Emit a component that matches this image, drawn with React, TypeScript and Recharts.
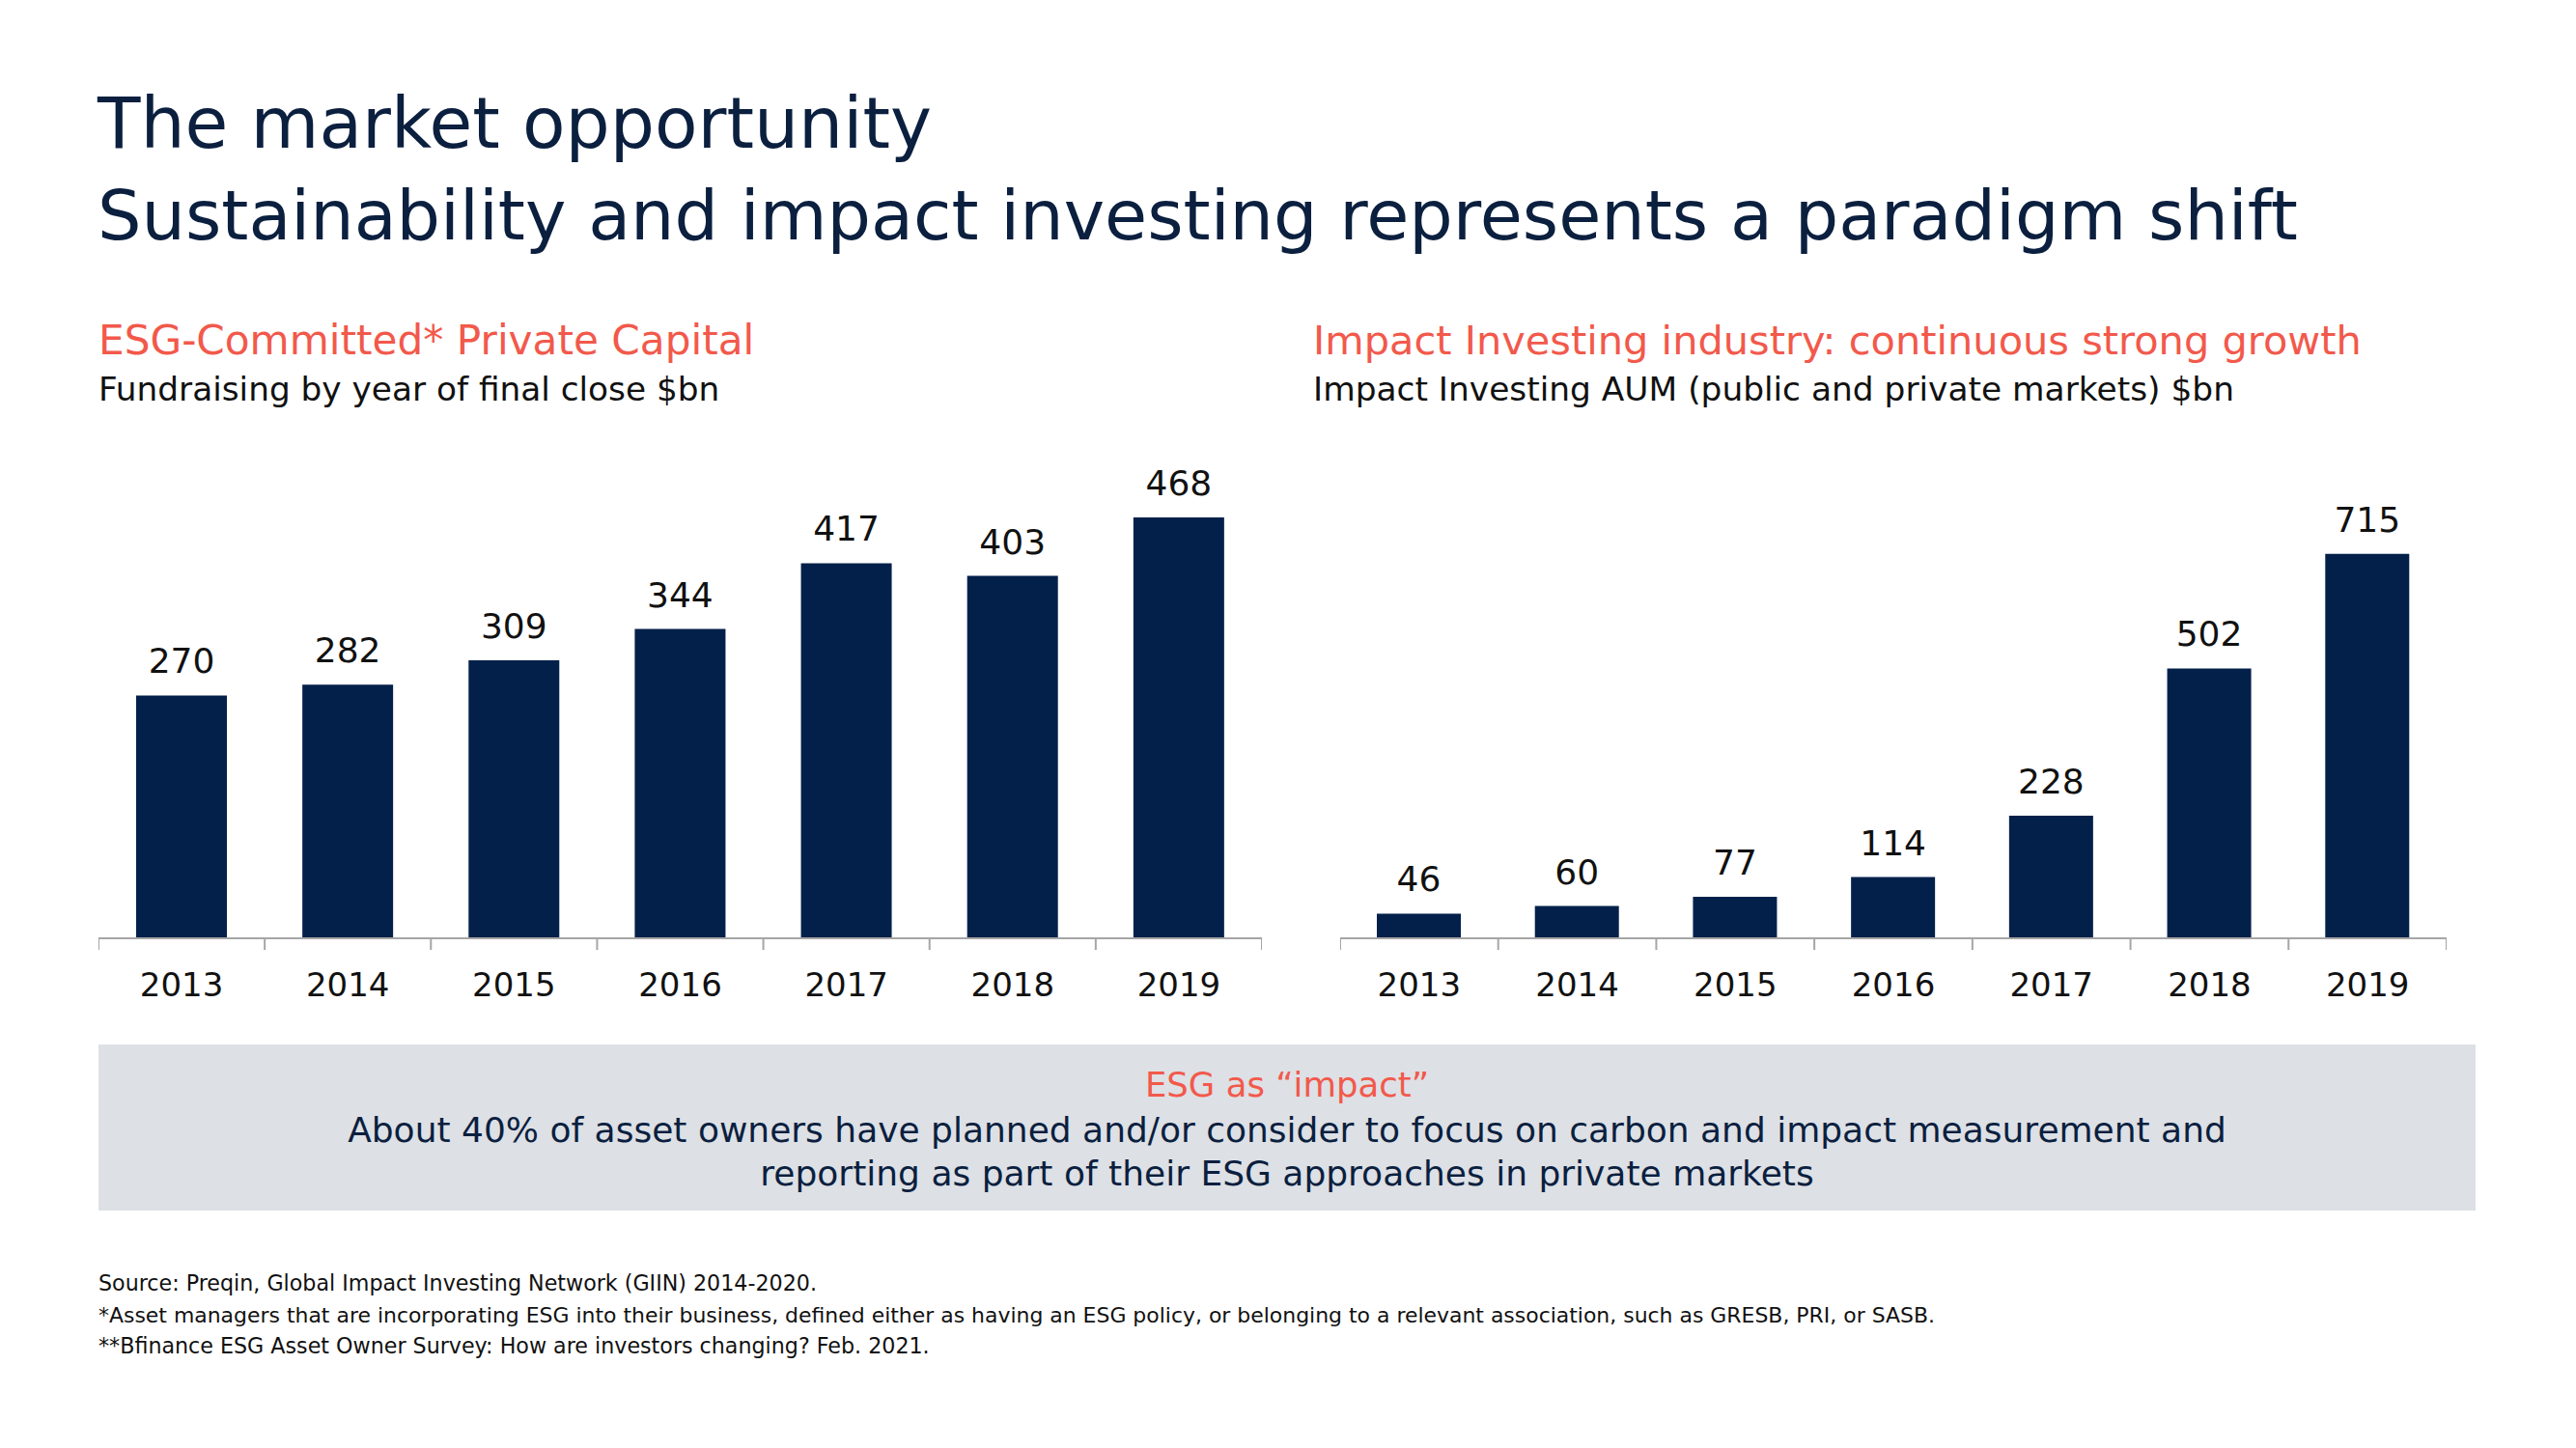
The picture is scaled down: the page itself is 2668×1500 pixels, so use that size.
import React from 'react';
import { BarChart, Bar, XAxis, YAxis, LabelList } from 'recharts';

const years = ['2013', '2014', '2015', '2016', '2017', '2018', '2019'];
const esgCommitted = [270, 282, 309, 344, 417, 403, 468];
const impactAum = [46, 60, 77, 114, 228, 502, 715];

const titleLines = [
  'The market opportunity',
  'Sustainability and impact investing represents a paradigm shift',
];
const leftHeading = 'ESG-Committed* Private Capital';
const leftSub = 'Fundraising by year of final close $bn';
const rightHeading = 'Impact Investing industry: continuous strong growth';
const rightSub = 'Impact Investing AUM (public and private markets) $bn';
const boxHeading = 'ESG as \u201Cimpact\u201D';
const boxLines = [
  'About 40% of asset owners have planned and/or consider to focus on carbon and impact measurement and',
  'reporting as part of their ESG approaches in private markets',
];
const footnotes = [
  'Source: Preqin, Global Impact Investing Network (GIIN) 2014-2020.',
  '*Asset managers that are incorporating ESG into their business, defined either as having an ESG policy, or belonging to a relevant association, such as GRESB, PRI, or SASB.',
  '**Bfinance ESG Asset Owner Survey: How are investors changing? Feb. 2021.',
];

const FONT = '"DejaVu Sans", sans-serif';
const NAVY = '#0B1F3F';
const BAR = '#03204A';
const RED = '#F2594B';
const AXIS = '#A6A6A6';

const leftData = years.map((y, i) => ({ year: y, value: esgCommitted[i] }));
const rightData = years.map((y, i) => ({ year: y, value: impactAum[i] }));

function makeTick(bandWidth: number, count: number) {
  return (props: any) => {
    const { x, y, payload, index } = props;
    const half = bandWidth / 2;
    return (
      <g>
        <line x1={x - half} x2={x - half} y1={y} y2={y + 12} stroke={AXIS} strokeWidth={2} />
        {index === count - 1 ? (
          <line x1={x + half} x2={x + half} y1={y} y2={y + 12} stroke={AXIS} strokeWidth={2} />
        ) : null}
        <text x={x} y={y + 60} textAnchor="middle" fontFamily={FONT} fontSize={34} fill="#111">
          {payload.value}
        </text>
      </g>
    );
  };
}

function Chart(props: {
  data: { year: string; value: number }[];
  left: number;
  width: number;
  max: number;
  marginTop: number;
  barSize: number;
}) {
  const { data, left, width, max, marginTop, barSize } = props;
  const bw = width / data.length;
  return (
    <div style={{ position: 'absolute', left, top: 400, width, height: 680 }}>
      <BarChart
        width={width}
        height={680}
        data={data}
        margin={{ top: marginTop, right: 0, bottom: 0, left: 0 }}
      >
        <XAxis
          dataKey="year"
          height={108}
          tickLine={false}
          tickSize={0}
          tickMargin={0}
          axisLine={{ stroke: AXIS, strokeWidth: 2 }}
          tick={makeTick(bw, data.length)}
          interval={0}
        />
        <YAxis hide domain={[0, max]} />
        <Bar dataKey="value" fill={BAR} barSize={barSize} isAnimationActive={false}>
          <LabelList
            dataKey="value"
            position="top"
            offset={23}
            fill="#111"
            fontSize={36}
            fontFamily={FONT}
          />
        </Bar>
      </BarChart>
    </div>
  );
}

export default function App() {
  return (
    <div
      style={{
        position: 'absolute',
        left: 0,
        top: 0,
        width: 2668,
        height: 1500,
        background: '#ffffff',
        overflow: 'hidden',
      }}
    >
      <svg
        width={2668}
        height={1500}
        style={{ position: 'absolute', left: 0, top: 0 }}
        fontFamily={FONT}
      >
        <text x={101} y={153} fontSize={72.8} fill={NAVY}>{titleLines[0]}</text>
        <text x={101} y={248} fontSize={71.7} fill={NAVY}>{titleLines[1]}</text>

        <text x={102} y={367} fontSize={42.2} fill={RED}>{leftHeading}</text>
        <text x={102} y={415} fontSize={34.3} fill="#111">{leftSub}</text>
        <text x={1360} y={367} fontSize={41.5} fill={RED}>{rightHeading}</text>
        <text x={1360} y={415} fontSize={34.4} fill="#111">{rightSub}</text>

        <rect x={102} y={1082} width={2462} height={172} fill="#DDE0E5" />
        <text x={1333} y={1136} fontSize={35.5} fill={RED} textAnchor="middle">{boxHeading}</text>
        <text x={1333} y={1183} fontSize={36} fill={NAVY} textAnchor="middle">{boxLines[0]}</text>
        <text x={1333} y={1228} fontSize={36} fill={NAVY} textAnchor="middle">{boxLines[1]}</text>

        <text x={102} y={1337} fontSize={22.2} fill="#111">{footnotes[0]}</text>
        <text x={102} y={1369.5} fontSize={21.95} fill="#111">{footnotes[1]}</text>
        <text x={102} y={1402} fontSize={22.2} fill="#111">{footnotes[2]}</text>
      </svg>

      <Chart data={leftData} left={102} width={1205} max={600} marginTop={13} barSize={94} />
      <Chart data={rightData} left={1388} width={1146} max={1000} marginTop={15} barSize={87} />
    </div>
  );
}
